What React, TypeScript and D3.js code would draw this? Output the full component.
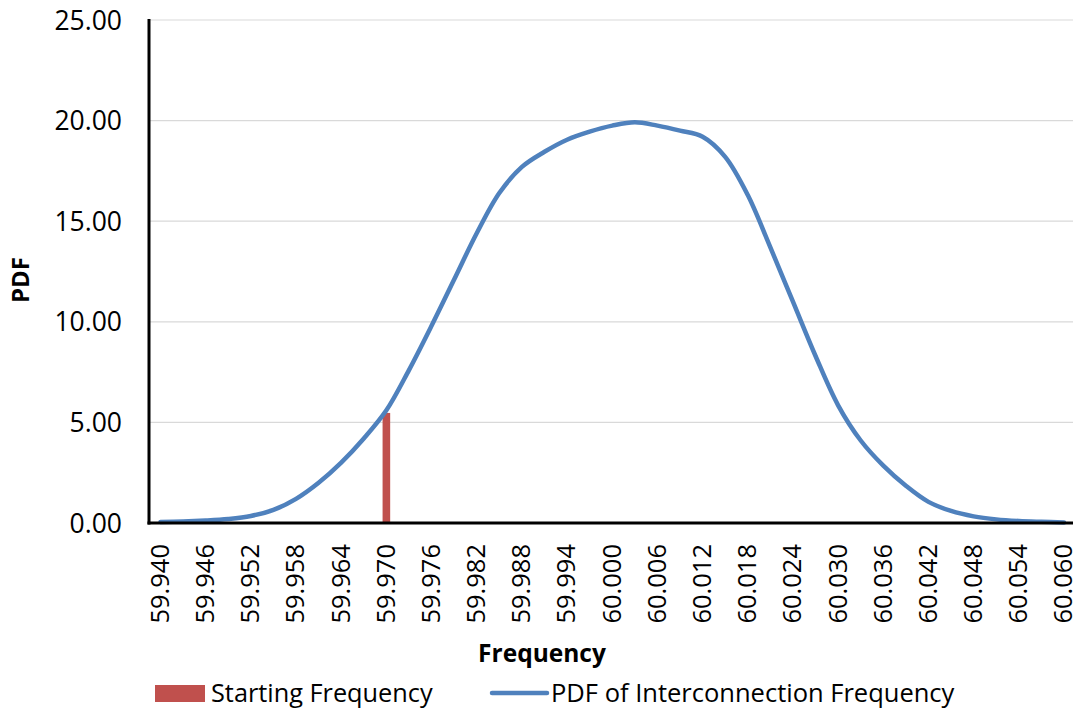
import React from "react";
import * as d3 from "d3";

const frequencies = [
  59.940, 59.943, 59.946, 59.949, 59.952, 59.955, 59.958, 59.961, 59.964, 59.967,
  59.970, 59.973, 59.976, 59.979, 59.982, 59.985, 59.988, 59.991, 59.994, 59.997,
  60.000, 60.003, 60.006, 60.009, 60.012, 60.015, 60.018, 60.021, 60.024, 60.027,
  60.030, 60.033, 60.036, 60.039, 60.042, 60.045, 60.048, 60.051, 60.054, 60.057, 60.060,
];
const pdfValues = [
  0.05, 0.07, 0.12, 0.2, 0.35, 0.65, 1.2, 2.0, 3.0, 4.2,
  5.6, 7.6, 9.8, 12.1, 14.4, 16.4, 17.7, 18.45, 19.05, 19.45,
  19.75, 19.92, 19.75, 19.5, 19.2, 18.2, 16.3, 13.7, 11.0, 8.3,
  5.85, 4.1, 2.85, 1.85, 1.05, 0.6, 0.33, 0.18, 0.1, 0.06, 0.03,
];
const startingFrequency = 59.970;
const startingValue = 5.47;
const xTickLabels = [
  "59.940", "59.946", "59.952", "59.958", "59.964", "59.970", "59.976", "59.982", "59.988", "59.994",
  "60.000", "60.006", "60.012", "60.018", "60.024", "60.030", "60.036", "60.042", "60.048", "60.054", "60.060",
];
const yTicks = [0, 5, 10, 15, 20, 25];

const FONT = "'Open Sans', 'Noto Sans', sans-serif";

export default function App() {
  const x = d3.scaleLinear().domain([59.94, 60.06]).range([160.5, 1064]);
  const y = d3.scaleLinear().domain([0, 25]).range([523, 20]);
  const line = d3
    .line<number>()
    .x((_, i) => x(frequencies[i]))
    .y((d) => y(d))
    .curve(d3.curveCatmullRom.alpha(0.5));

  const plotLeft = 149;
  const plotRight = 1073;

  return (
    <svg
      width={1078}
      height={708}
      style={{ position: "absolute", left: 0, top: 0, background: "#fff" }}
      fontFamily={FONT}
    >
      <rect width={1078} height={708} fill="#fff" />
      {yTicks.map((t) => (
        <g key={t}>
          {t > 0 && (
            <line x1={plotLeft} x2={plotRight} y1={y(t)} y2={y(t)} stroke="#d9d9d9" strokeWidth={1.2} />
          )}
          <text x={122} y={y(t)} dy="0.36em" textAnchor="end" fontSize={26.5} fill="#000">
            {t.toFixed(2)}
          </text>
        </g>
      ))}
      <rect
        x={x(startingFrequency) - 3.8}
        y={y(startingValue)}
        width={7.6}
        height={y(0) - y(startingValue)}
        fill="#C0504D"
      />
      <path d={line(pdfValues) || ""} fill="none" stroke="#4F81BD" strokeWidth={4.5} strokeLinejoin="round" strokeLinecap="round" />
      <line x1={plotLeft} x2={plotLeft} y1={19} y2={524.5} stroke="#000" strokeWidth={3} />
      <line x1={plotLeft - 1.5} x2={plotRight} y1={523} y2={523} stroke="#000" strokeWidth={3} />
      {xTickLabels.map((lab) => {
        const xp = x(+lab);
        return (
          <text
            key={lab}
            transform={`translate(${xp},${544}) rotate(-90)`}
            dy="0.33em"
            textAnchor="end"
            fontSize={25.5}
            fill="#000"
          >
            {lab}
          </text>
        );
      })}
      <text
        transform={`translate(20,280) rotate(-90)`}
        dy="0.36em"
        textAnchor="middle"
        fontSize={24}
        fontWeight="bold"
        fill="#000"
      >
        PDF
      </text>
      <text x={542} y={662} textAnchor="middle" fontSize={24.5} fontWeight="bold" fill="#000">
        Frequency
      </text>
      <rect x={155} y={685} width={50} height={17} fill="#C0504D" />
      <text x={211} y={693} dy="0.36em" fontSize={25.3} fill="#000">
        Starting Frequency
      </text>
      <line x1={492} x2={547} y1={693} y2={693} stroke="#4F81BD" strokeWidth={4.5} strokeLinecap="round" />
      <text x={551} y={693} dy="0.36em" fontSize={25.5} fill="#000">
        PDF of Interconnection Frequency
      </text>
    </svg>
  );
}
